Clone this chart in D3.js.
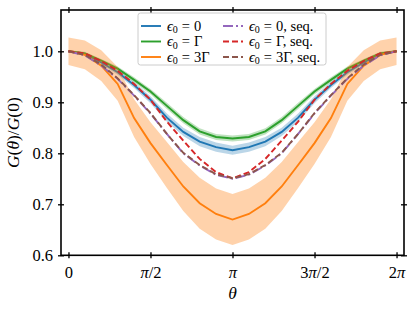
<!DOCTYPE html>
<html>
<head>
<meta charset="utf-8">
<script src="https://cdn.jsdelivr.net/npm/d3@7"></script>
<style>
  body { margin: 0; background: #fff; }
  svg { display: block; }
  text { font-family: "Liberation Serif", "DejaVu Serif", serif; }
</style>
</head>
<body>
<div class="chart"></div>
<script>
// 21 samples of theta from 0 to 2*pi
var theta = [0, 0.314, 0.628, 0.942, 1.257, 1.571, 1.885, 2.199, 2.513, 2.827, 3.142,
             3.456, 3.770, 4.084, 4.398, 4.712, 5.027, 5.341, 5.655, 5.969, 6.283];

var g0    = [1.000, 0.995, 0.978, 0.959, 0.934, 0.905, 0.870, 0.842, 0.823, 0.812, 0.806,
             0.812, 0.823, 0.842, 0.870, 0.905, 0.934, 0.959, 0.978, 0.995, 1.000];
var g0Err = [0.002, 0.003, 0.004, 0.005, 0.006, 0.007, 0.008, 0.008, 0.009, 0.009, 0.009,
             0.009, 0.009, 0.008, 0.008, 0.007, 0.006, 0.005, 0.004, 0.003, 0.002];
var g1    = [1.000, 0.996, 0.982, 0.966, 0.944, 0.921, 0.893, 0.865, 0.843, 0.832, 0.829,
             0.832, 0.843, 0.865, 0.893, 0.921, 0.944, 0.966, 0.982, 0.996, 1.000];
var g1Err = [0.002, 0.003, 0.003, 0.004, 0.005, 0.005, 0.006, 0.006, 0.006, 0.006, 0.006,
             0.006, 0.006, 0.006, 0.006, 0.005, 0.005, 0.004, 0.003, 0.003, 0.002];
var g3    = [1.000, 0.993, 0.972, 0.936, 0.869, 0.820, 0.777, 0.735, 0.702, 0.681, 0.670,
             0.681, 0.702, 0.735, 0.777, 0.820, 0.869, 0.936, 0.972, 0.993, 1.000];
var g3Err = [0.027, 0.028, 0.030, 0.033, 0.037, 0.041, 0.045, 0.048, 0.050, 0.050, 0.050,
             0.050, 0.050, 0.048, 0.045, 0.041, 0.037, 0.033, 0.030, 0.028, 0.027];
var s0    = [1.000, 0.992, 0.972, 0.946, 0.913, 0.878, 0.838, 0.800, 0.776, 0.758, 0.750,
             0.758, 0.776, 0.800, 0.838, 0.878, 0.913, 0.946, 0.972, 0.992, 1.000];
var s1    = [1.000, 0.996, 0.981, 0.962, 0.936, 0.905, 0.862, 0.825, 0.789, 0.763, 0.751,
             0.763, 0.789, 0.825, 0.862, 0.905, 0.936, 0.962, 0.981, 0.996, 1.000];
var s3    = [1.000, 0.993, 0.974, 0.947, 0.914, 0.879, 0.838, 0.801, 0.777, 0.759, 0.751,
             0.759, 0.777, 0.801, 0.838, 0.879, 0.914, 0.947, 0.974, 0.993, 1.000];

var xTicks = [0, Math.PI / 2, Math.PI, 3 * Math.PI / 2, 2 * Math.PI];
var xTickLabels = ["0", "π/2", "π", "3π/2", "2π"];
var yTicks = [0.6, 0.7, 0.8, 0.9, 1.0];

var width = 415, height = 312;
var mLeft = 61, mRight = 404, mTop = 10, mBottom = 255.3;

var svg = d3.select(".chart").append("svg")
    .attr("width", width)
    .attr("height", height);

var x = d3.scaleLinear().domain([-0.143, 6.426]).range([mLeft, mRight]);
var y = d3.scaleLinear().domain([0.6, 1.081]).range([mBottom, mTop]);

var plot = svg.append("g");
var lw = 1.9;

function band(vals, err, color, op) {
  var area = d3.area()
      .x(function(d, i) { return x(theta[i]); })
      .y0(function(d, i) { return y(d - err[i]); })
      .y1(function(d, i) { return y(d + err[i]); });
  plot.append("path").datum(vals)
      .attr("d", area)
      .attr("fill", color)
      .attr("fill-opacity", op);
}

function curve(vals, color, dash) {
  var line = d3.line()
      .x(function(d, i) { return x(theta[i]); })
      .y(function(d) { return y(d); });
  plot.append("path").datum(vals)
      .attr("d", line)
      .attr("fill", "none")
      .attr("stroke", color)
      .attr("stroke-width", lw)
      .attr("stroke-dasharray", dash || null);
}

var dashDot = "10,3,2,3", dashed = "6,3";

band(g0, g0Err, "#1f77b4", 0.3);
curve(g0, "#1f77b4");
band(g1, g1Err, "#2ca02c", 0.3);
curve(g1, "#2ca02c");
band(g3, g3Err, "#ff7f0e", 0.35);
curve(g3, "#ff7f0e");
curve(s0, "#9467bd", dashDot);
curve(s1, "#d62728", dashed);
curve(s3, "#8c564b", dashed);

// axes with ticks crossing the spine
var fs = "16.5px";
var axL = svg.append("g").attr("transform", "translate(" + mLeft + ",0)")
    .call(d3.axisLeft(y).tickValues(yTicks).tickFormat(d3.format(".1f")).tickSize(3).tickPadding(5));
axL.selectAll(".tick line").attr("x1", 3);
var axR = svg.append("g").attr("transform", "translate(" + mRight + ",0)")
    .call(d3.axisRight(y).tickValues(yTicks).tickFormat("").tickSize(3));
axR.selectAll(".tick line").attr("x1", -3);
var axB = svg.append("g").attr("transform", "translate(0," + mBottom + ")")
    .call(d3.axisBottom(x).tickValues(xTicks).tickFormat(function(d, i) { return xTickLabels[i]; }).tickSize(3));
axB.selectAll(".tick line").attr("y1", -3);
axB.selectAll(".tick text").attr("y", 22.5).attr("dy", 0);
var axT = svg.append("g").attr("transform", "translate(0," + mTop + ")")
    .call(d3.axisTop(x).tickValues(xTicks).tickFormat("").tickSize(3));
axT.selectAll(".tick line").attr("y1", 3);

svg.selectAll(".domain").remove();
svg.selectAll(".tick line").attr("stroke", "#000").attr("stroke-width", 1.3);
svg.selectAll(".tick text").attr("font-size", fs).attr("fill", "#000")
    .style("font-family", "'Liberation Serif', serif");
axB.selectAll(".tick text").each(function() {
  var t = d3.select(this), s = t.text();
  t.text(null);
  s.split("").forEach(function(c) {
    t.append("tspan").attr("font-style", c === "π" ? "italic" : null).text(c);
  });
});

svg.append("rect")
    .attr("x", mLeft).attr("y", mTop)
    .attr("width", mRight - mLeft).attr("height", mBottom - mTop)
    .attr("fill", "none").attr("stroke", "#000").attr("stroke-width", 1.6);

// axis labels
svg.append("text")
    .attr("x", x(Math.PI)).attr("y", 299)
    .attr("text-anchor", "middle")
    .attr("font-size", "17.5px").attr("font-style", "italic")
    .text("θ");

var yl = svg.append("text")
    .attr("transform", "translate(19," + ((mTop + mBottom) / 2) + ") rotate(-90)")
    .attr("text-anchor", "middle")
    .attr("font-size", "17.5px");
yl.append("tspan").attr("font-style", "italic").text("G");
yl.append("tspan").text("(");
yl.append("tspan").attr("font-style", "italic").text("θ");
yl.append("tspan").text(")/");
yl.append("tspan").attr("font-style", "italic").text("G");
yl.append("tspan").text("(0)");

// legend
var legendItems = [
  {rhs: "0", seq: false, color: "#1f77b4", dash: null},
  {rhs: "Γ", seq: false, color: "#2ca02c", dash: null},
  {rhs: "3Γ", seq: false, color: "#ff7f0e", dash: null},
  {rhs: "0", seq: true, color: "#9467bd", dash: dashDot},
  {rhs: "Γ", seq: true, color: "#d62728", dash: dashed},
  {rhs: "3Γ", seq: true, color: "#8c564b", dash: dashed}
];

var leg = svg.append("g");
leg.append("rect")
    .attr("x", 138).attr("y", 13).attr("width", 188).attr("height", 52)
    .attr("rx", 2.5)
    .attr("fill", "#fff").attr("fill-opacity", 0.8)
    .attr("stroke", "#cccccc").attr("stroke-width", 1);

legendItems.forEach(function(d, i) {
  var col = Math.floor(i / 3), row = i % 3;
  var lx = col === 0 ? 141 : 223;
  var ly = 26 + row * 15.5;
  leg.append("line")
      .attr("x1", lx).attr("x2", lx + 20)
      .attr("y1", ly).attr("y2", ly)
      .attr("stroke", d.color).attr("stroke-width", lw)
      .attr("stroke-dasharray", d.dash);
  var t = leg.append("text")
      .attr("x", lx + 26).attr("y", ly + 4.5)
      .attr("font-size", "14.5px");
  t.append("tspan").attr("font-style", "italic").text("ϵ");
  t.append("tspan").attr("font-size", "10px").attr("dy", 2.5).text("0");
  t.append("tspan").attr("dy", -2.5).attr("dx", 4).text("=");
  t.append("tspan").attr("dx", 4).text(d.rhs + (d.seq ? ", seq." : ""));
});
</script>
</body>
</html>
